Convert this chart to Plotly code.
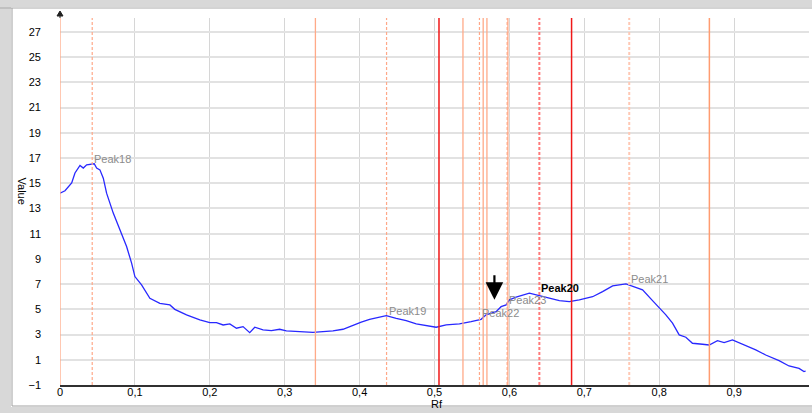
import plotly.graph_objects as go

# ---- data ----
rf = [0.0, 0.0067, 0.0156, 0.02, 0.0267, 0.0311, 0.0356, 0.0457, 0.0489, 0.0533, 0.0578,
      0.0622, 0.0711, 0.08, 0.0889, 0.0956, 0.1, 0.1089, 0.12, 0.1333, 0.1467, 0.1533,
      0.1689, 0.1867, 0.2, 0.2089, 0.2178, 0.2267, 0.2356, 0.2444, 0.2533, 0.26, 0.2711,
      0.2822, 0.2933, 0.3022, 0.32, 0.3378, 0.3511, 0.3644, 0.3778, 0.3911, 0.4022, 0.4133,
      0.4267, 0.4356, 0.4489, 0.4622, 0.4756, 0.4889, 0.5022, 0.5156, 0.5333, 0.5489,
      0.5622, 0.5689, 0.5822, 0.5889, 0.5956, 0.6, 0.6089, 0.6267, 0.64, 0.6533, 0.6667,
      0.68, 0.6933, 0.7111, 0.7244, 0.7378, 0.7556, 0.7778, 0.7911, 0.8089, 0.8178, 0.8267,
      0.8356, 0.8444, 0.8578, 0.8667, 0.8778, 0.8867, 0.8978, 0.9111, 0.9289, 0.9422, 0.96,
      0.9733, 0.9867, 0.9933, 0.9956]
value = [14.21, 14.40, 15.02, 15.81, 16.41, 16.2, 16.46, 16.54, 16.2, 16.06, 15.4,
         14.21, 12.63, 11.3, 9.98, 8.66, 7.6, 6.94, 5.88, 5.48, 5.35, 5.0,
         4.56, 4.16, 3.94, 3.94, 3.76, 3.84, 3.5, 3.63, 3.15, 3.58, 3.37,
         3.31, 3.42, 3.29, 3.23, 3.18, 3.23, 3.29, 3.42, 3.76, 3.98, 4.21,
         4.42, 4.5, 4.29, 4.1, 3.84, 3.68, 3.58, 3.76, 3.84, 4.02,
         4.21, 4.56, 4.82, 5.21, 5.35, 5.75, 5.96, 6.28, 6.06, 5.88, 5.69,
         5.61, 5.75, 6.0, 6.4, 6.86, 7.02, 6.54, 5.69, 4.56, 3.9, 2.97,
         2.79, 2.31, 2.23, 2.17, 2.52, 2.36, 2.57, 2.25, 1.78, 1.38, 0.93,
         0.51, 0.32, 0.06, 0.11]

peak_names = ["Peak18", "Peak19", "Peak22", "Peak23", "Peak20", "Peak21"]
peak_label_rf = [0.046, 0.439, 0.564, 0.600, 0.642, 0.762]
peak_label_val = [16.9, 4.87, 4.69, 5.75, 6.72, 7.41]

marker_rf = [0.0, 0.043, 0.341, 0.436, 0.506, 0.538, 0.560, 0.565, 0.570, 0.597, 0.598,
             0.640, 0.683, 0.760, 0.867]
marker_kind = ["solid", "dash", "solid", "dash", "red", "solid", "dash", "solid", "solid",
               "dash", "solid", "reddash", "red", "lightdash", "solid2"]

x_tickvals = [0, 0.1, 0.2, 0.3, 0.4, 0.5, 0.6, 0.7, 0.8, 0.9, 1.0]
x_ticktext = ["0", "0,1", "0,2", "0,3", "0,4", "0,5", "0,6", "0,7", "0,8", "0,9", "1"]
y_tickvals = [-1, 1, 3, 5, 7, 9, 11, 13, 15, 17, 19, 21, 23, 25, 27]

arrow_rf = 0.58
arrow_val = 5.75

# ---- styles ----
styles = {
    "solid": dict(color="#FFAA88", width=1.3, dash="solid"),
    "solid2": dict(color="#FF9C70", width=1.5, dash="solid"),
    "dash": dict(color="#FFA888", width=1.2, dash="3px,2px"),
    "lightdash": dict(color="#FFC8B4", width=2, dash="3px,2px"),
    "red": dict(color="#F01818", width=1.5, dash="solid"),
    "reddash": dict(color="#FF7A7A", width=2, dash="3px,2px"),
}

FONT = "Liberation Sans, Arial"

fig = go.Figure()
fig.add_trace(go.Scatter(x=rf, y=value, mode="lines",
                         line=dict(color="#2828FF", width=1.3), hoverinfo="skip"))

shapes = []
for xv, k in zip(marker_rf, marker_kind):
    shapes.append(dict(type="line", xref="x", yref="y domain", x0=xv, x1=xv, y0=0, y1=1,
                       line=styles[k], layer="above"))

# window frame decorations (paper coords: x 0..1 -> 60..809 px, y 0..1 -> 385..18 px)
def px_x(p):
    return (p - 60) / 749.0

def px_y(p):
    return (385 - p) / 367.0

shapes += [
    dict(type="rect", xref="paper", yref="paper", x0=px_x(0), x1=px_x(812), y0=px_y(0), y1=px_y(7),
         fillcolor="#D8D8D8", line=dict(width=0), layer="below"),
    dict(type="line", xref="paper", yref="paper", x0=px_x(0), x1=px_x(812), y0=px_y(8), y1=px_y(8),
         line=dict(color="#A8A8A8", width=1)),
    dict(type="rect", xref="paper", yref="paper", x0=px_x(0), x1=px_x(11), y0=px_y(0), y1=px_y(413),
         fillcolor="#D8D8D8", line=dict(width=0), layer="below"),
    dict(type="line", xref="paper", yref="paper", x0=px_x(12), x1=px_x(12), y0=px_y(8), y1=px_y(406),
         line=dict(color="#A0A0A0", width=1)),
    dict(type="rect", xref="paper", yref="paper", x0=px_x(0), x1=px_x(812), y0=px_y(407), y1=px_y(413),
         fillcolor="#D8D8D8", line=dict(width=0), layer="below"),
    dict(type="line", xref="paper", yref="paper", x0=px_x(12), x1=px_x(812), y0=px_y(406), y1=px_y(406),
         line=dict(color="#A0A0A0", width=1)),
    # small arrow at top of y axis
    dict(type="path", xref="paper", yref="paper",
         path=f"M {px_x(57)} {px_y(16)} L {px_x(60)} {px_y(11)} L {px_x(63)} {px_y(16)} Z",
         fillcolor="#202020", line=dict(color="#202020", width=1)),
    dict(type="line", xref="paper", yref="paper", x0=px_x(60), x1=px_x(60), y0=px_y(13), y1=px_y(18),
         line=dict(color="#202020", width=1)),
]

annotations = []
for name, xv, yv in zip(peak_names, peak_label_rf, peak_label_val):
    bold = name == "Peak20"
    annotations.append(dict(x=xv, y=yv, xref="x", yref="y", text=f"<b>{name}</b>" if bold else name,
                            showarrow=False, xanchor="left", yanchor="middle", xshift=-2,
                            font=dict(family=FONT, size=11,
                                      color="#000000" if bold else "#8C8C8C")))
annotations.append(dict(x=arrow_rf, y=arrow_val, xref="x", yref="y", ax=0, ay=-26,
                        showarrow=True, arrowhead=2, arrowsize=1.6, arrowwidth=2.2,
                        arrowcolor="#000000", text=""))
annotations.append(dict(x=px_x(21.5), y=px_y(191), xref="paper", yref="paper", text="Value",
                        textangle=90, showarrow=False, xanchor="center", yanchor="middle",
                        font=dict(family=FONT, size=11, color="#000000")))
annotations.append(dict(x=px_x(437), y=px_y(404), xref="paper", yref="paper", text="Rf",
                        showarrow=False, xanchor="center", yanchor="middle",
                        font=dict(family=FONT, size=11, color="#000000")))

fig.update_layout(
    width=812, height=413,
    margin=dict(l=60, r=3, t=18, b=28, autoexpand=False),
    paper_bgcolor="#FFFFFF", plot_bgcolor="#FFFFFF",
    showlegend=False,
    shapes=shapes, annotations=annotations,
    font=dict(family=FONT, size=11, color="#000000"),
)
fig.update_xaxes(range=[0, 1], tickvals=x_tickvals, ticktext=x_ticktext,
                 showgrid=True, gridcolor="#D6D6D6", gridwidth=1,
                 showline=True, linecolor="#303030", linewidth=1.5,
                 zeroline=False, ticks="", ticklabelstandoff=-4, automargin=False)
fig.update_yaxes(range=[-1, 28.1], tickvals=y_tickvals,
                 showgrid=True, gridcolor="#E2E2E2", gridwidth=2,
                 showline=False, zeroline=False, ticks="", ticklabelstandoff=18,
                 automargin=False)

fig.write_html("out.html", config={"displayModeBar": False},
               post_script="document.body.style.margin='0px';document.body.style.overflow='hidden';")
